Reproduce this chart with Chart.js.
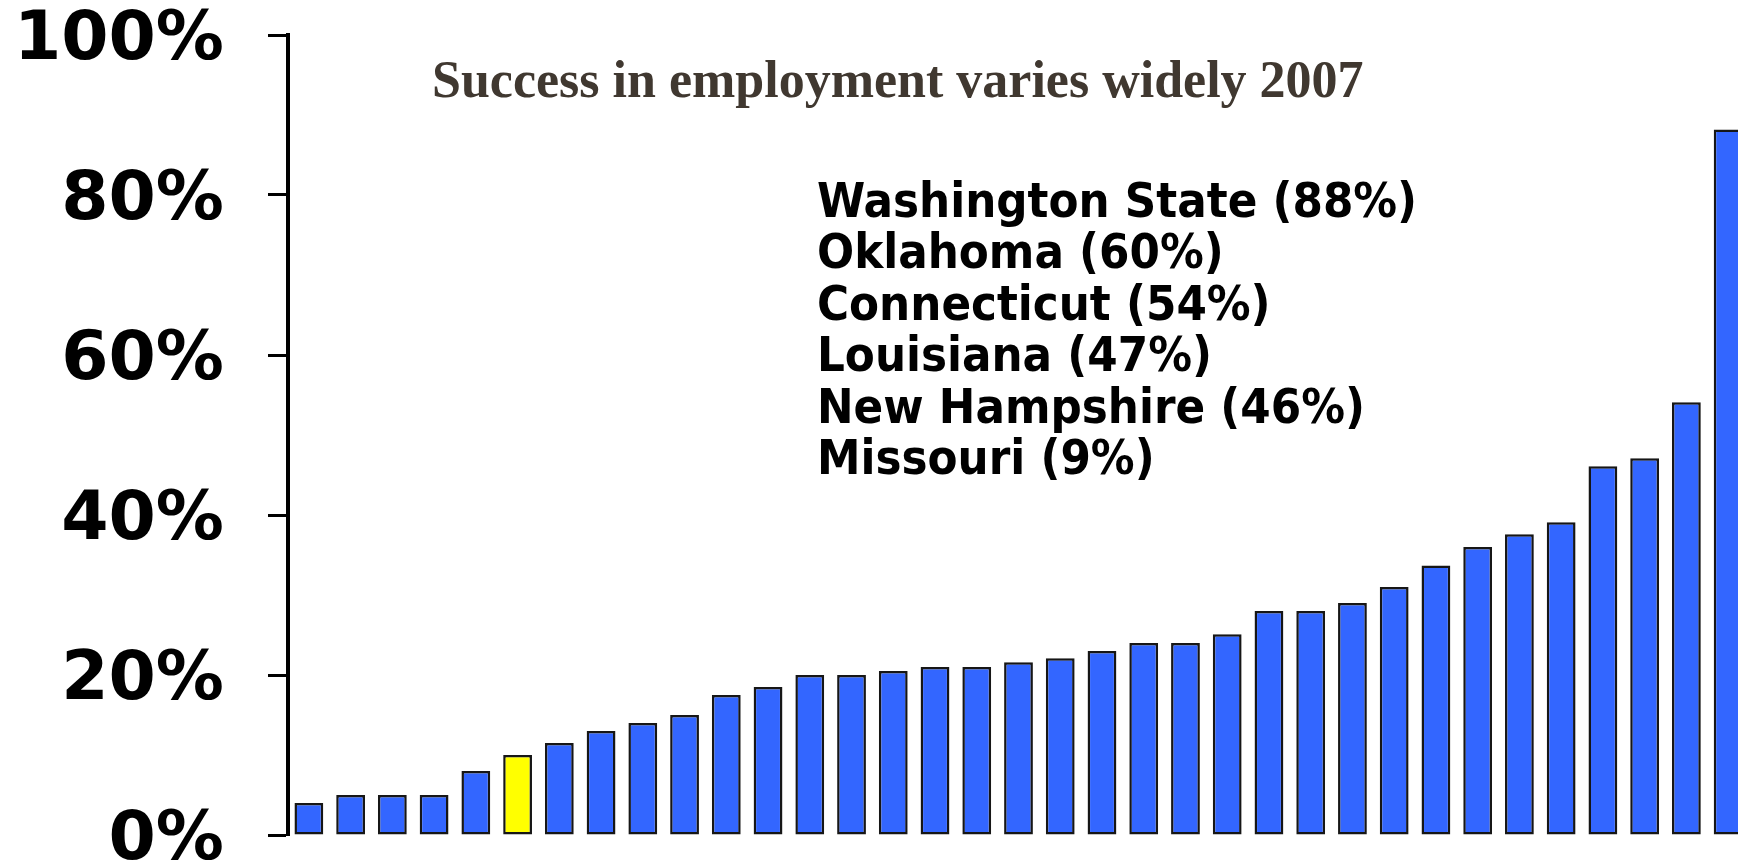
<!DOCTYPE html>
<html>
<head>
<meta charset="utf-8">
<script src="https://cdn.jsdelivr.net/npm/chart.js@4.4.0/dist/chart.umd.min.js"></script>
<style>
  html, body { margin: 0; padding: 0; background: #fff; overflow: hidden; }
  #wrap { width: 1760px; height: 880px; }
</style>
</head>
<body>
<div id="wrap"><canvas id="chart" width="1760" height="880"></canvas></div>
<script>
const titleText = 'Success in employment varies widely 2007';
// state rates sorted low to high
const employmentRates = [4, 5, 5, 5, 8, 10, 11.5, 13, 14, 15, 17.5, 18.5, 20, 20, 20.5, 21, 21, 21.6, 22.1, 23,
  24, 24, 25.1, 28, 28, 29, 31, 33.7, 36, 37.6, 39.1, 46.1, 47.1, 54.1, 88.2];
const highlightIndex = 5; // Missouri
const calloutStates = ['Washington State', 'Oklahoma', 'Connecticut', 'Louisiana', 'New Hampshire', 'Missouri'];
const calloutRates = [88, 60, 54, 47, 46, 9];
const yTicks = [0, 20, 40, 60, 80, 100];

const barColors = employmentRates.map((_, i) => i === highlightIndex ? '#ffff00' : '#3366ff');

// title and the list of states are drawn straight onto the canvas
const textPlugin = {
  id: 'slideText',
  afterDraw(chart) {
    const ctx = chart.ctx;
    ctx.save();
    ctx.textAlign = 'left';
    ctx.textBaseline = 'alphabetic';

    ctx.fillStyle = '#403830';
    ctx.font = 'bold 52px "Liberation Serif", serif';
    ctx.fillText(titleText, 432, 97);

    ctx.fillStyle = '#000';
    ctx.font = 'bold 48.6px "DejaVu Sans Condensed", "DejaVu Sans", sans-serif';
    calloutStates.forEach((name, i) => {
      ctx.fillText(name + ' (' + calloutRates[i] + '%)', 817, 217 + i * 51.4);
    });
    ctx.restore();
  }
};

const ctx = document.getElementById('chart').getContext('2d');
new Chart(ctx, {
  type: 'bar',
  data: {
    labels: employmentRates.map((_, i) => i + 1),
    datasets: [{
      data: employmentRates,
      backgroundColor: barColors,
      borderColor: '#161616',
      borderWidth: 2.5,
      borderSkipped: false,
      barPercentage: 0.69,
      categoryPercentage: 1
    }]
  },
  options: {
    responsive: false,
    animation: false,
    devicePixelRatio: 1,
    layout: { padding: { top: 35, bottom: 45, right: 11, left: 0 } },
    scales: {
      x: { display: false },
      y: {
        min: 0,
        max: 100,
        afterBuildTicks: s => { s.ticks = yTicks.map(v => ({ value: v })); },
        // fixed axis width, and let the layout padding decide the top and bottom
        afterFit: s => { s.width = 288; s.paddingTop = 0; s.paddingBottom = 0; },
        ticks: {
          callback: v => v + '%',
          color: '#000',
          padding: 44,
          labelOffset: 6,
          font: { family: 'DejaVu Sans', weight: 'bold', size: 68 }
        },
        grid: { drawOnChartArea: false, drawTicks: true, tickLength: 20, tickWidth: 3, color: '#000' },
        border: { display: true, color: '#000', width: 4 }
      }
    },
    plugins: {
      legend: { display: false },
      tooltip: { enabled: false }
    }
  },
  plugins: [textPlugin]
});
</script>
</body>
</html>
